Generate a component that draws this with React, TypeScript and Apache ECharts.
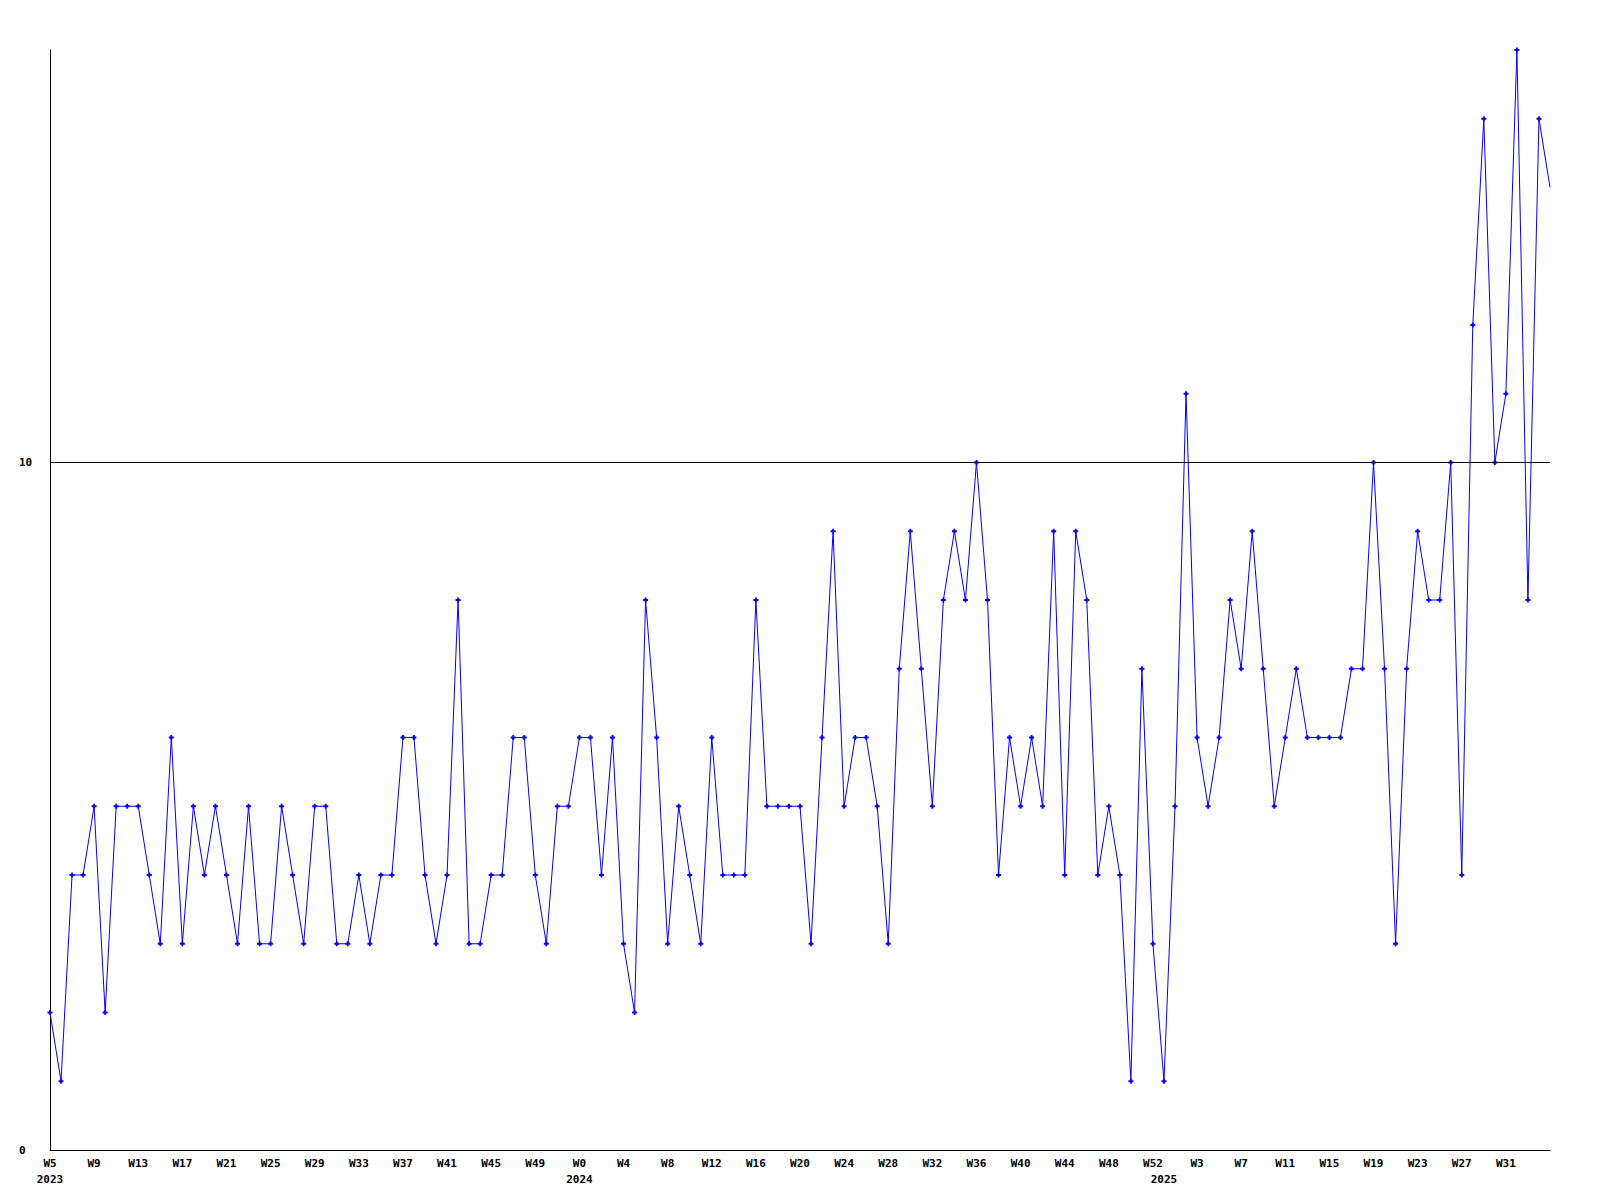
import React, { useEffect, useRef } from "react";
import * as echarts from "echarts";

// Weekly values
const values2023: number[] = [
  2, 1, 4, 4, 5, 2, 5, 5, 5, 4, 3, 6, 3, 5, 4, 5, 4, 3, 5, 3, 3, 5, 4, 3, 5, 5,
  3, 3, 4, 3, 4, 4, 6, 6, 4, 3, 4, 8, 3, 3, 4, 4, 6, 6, 4, 3, 5, 5,
];
const values2024: number[] = [
  6, 6, 4, 6, 3, 2, 8, 6, 3, 5, 4, 3, 6, 4, 4, 4, 8, 5, 5, 5, 5, 3, 6, 9, 5, 6,
  6, 5, 3, 7, 9, 7, 5, 8, 9, 8, 10, 8, 4, 6, 5, 6, 5, 9, 4, 9, 8, 4, 5, 4, 1, 7, 3,
];
const values2025: number[] = [
  1, 5, 11, 6, 5, 6, 8, 7, 9, 7, 5, 6, 7, 6, 6, 6, 6, 7, 7, 10, 7, 3, 7, 9, 8, 8,
  10, 4, 12, 15, 10, 11, 16, 8, 15, 14,
];

// Week ranges per year (first week shown, last week shown)
const years: number[] = [2023, 2024, 2025];
const firstWeeks: number[] = [5, 0, 0];
const lastWeeks: number[] = [52, 52, 35];

const yTickLabels: number[] = [0, 10];
const referenceLine = 10;
const yMax = 16;
const labelEvery = 4;

export default function App() {
  const ref = useRef<HTMLDivElement>(null);

  useEffect(() => {
    if (!ref.current) return;
    const chart = echarts.init(ref.current, undefined, { renderer: "svg" });

    const weekLabels: string[] = [];
    const yearLabels: string[] = [];
    years.forEach((y, i) => {
      for (let w = firstWeeks[i]; w <= lastWeeks[i]; w++) {
        weekLabels.push("W" + w);
        yearLabels.push(w === firstWeeks[i] ? String(y) : "");
      }
    });

    const all = [...values2023, ...values2024, ...values2025];
    const lastIdx = all.length - 1;
    const seriesData: any[] = all.map((v, i) =>
      i === lastIdx ? { value: v, symbol: "none" } : v
    );

    const font = {
      fontFamily: "'DejaVu Sans Mono', 'Liberation Mono', monospace",
      fontWeight: "bold" as const,
      fontSize: 11,
      color: "#000",
    };

    chart.setOption({
      animation: false,
      backgroundColor: "#fff",
      grid: { left: 50, right: 50, top: 50, bottom: 50, containLabel: false },
      xAxis: [
        {
          type: "category",
          data: weekLabels,
          boundaryGap: false,
          axisLine: { show: true, lineStyle: { color: "#000", width: 1 } },
          axisTick: { show: false },
          splitLine: { show: false },
          axisLabel: {
            ...font,
            interval: (i: number) => i % labelEvery === 0 && i < lastIdx,
            margin: 8,
          },
        },
        {
          type: "category",
          data: yearLabels,
          boundaryGap: false,
          position: "bottom",
          offset: 16,
          axisLine: { show: false },
          axisTick: { show: false },
          splitLine: { show: false },
          axisLabel: { ...font, interval: 0, margin: 8, hideOverlap: false },
        },
      ],
      yAxis: {
        type: "value",
        min: 0,
        max: yMax,
        interval: 10,
        axisLine: { show: true, lineStyle: { color: "#000", width: 1 } },
        axisTick: { show: false },
        splitLine: { show: false },
        axisLabel: {
          ...font,
          align: "left",
          margin: 31,
          showMaxLabel: false,
          formatter: (v: number) => (yTickLabels.includes(v) ? String(v) : ""),
        },
      },
      series: [
        {
          type: "line",
          xAxisIndex: 0,
          data: seriesData,
          symbol: "path://M1.6,0H3.4V1.6H5V3.4H3.4V5H1.6V3.4H0V1.6H1.6Z",
          symbolSize: 5,
          showAllSymbol: true,
          lineStyle: { color: "#0000ff", width: 1 },
          itemStyle: { color: "#0000ff" },
          clip: false,
          markLine: {
            silent: true,
            symbol: ["none", "none"],
            label: { show: false },
            lineStyle: { color: "#000", width: 1, type: "solid" },
            data: [{ yAxis: referenceLine }],
          },
          z: 3,
        },
      ],
    });

    return () => chart.dispose();
  }, []);

  return (
    <div
      ref={ref}
      style={{ position: "absolute", left: 0, top: 0, width: 1600, height: 1200 }}
    />
  );
}
